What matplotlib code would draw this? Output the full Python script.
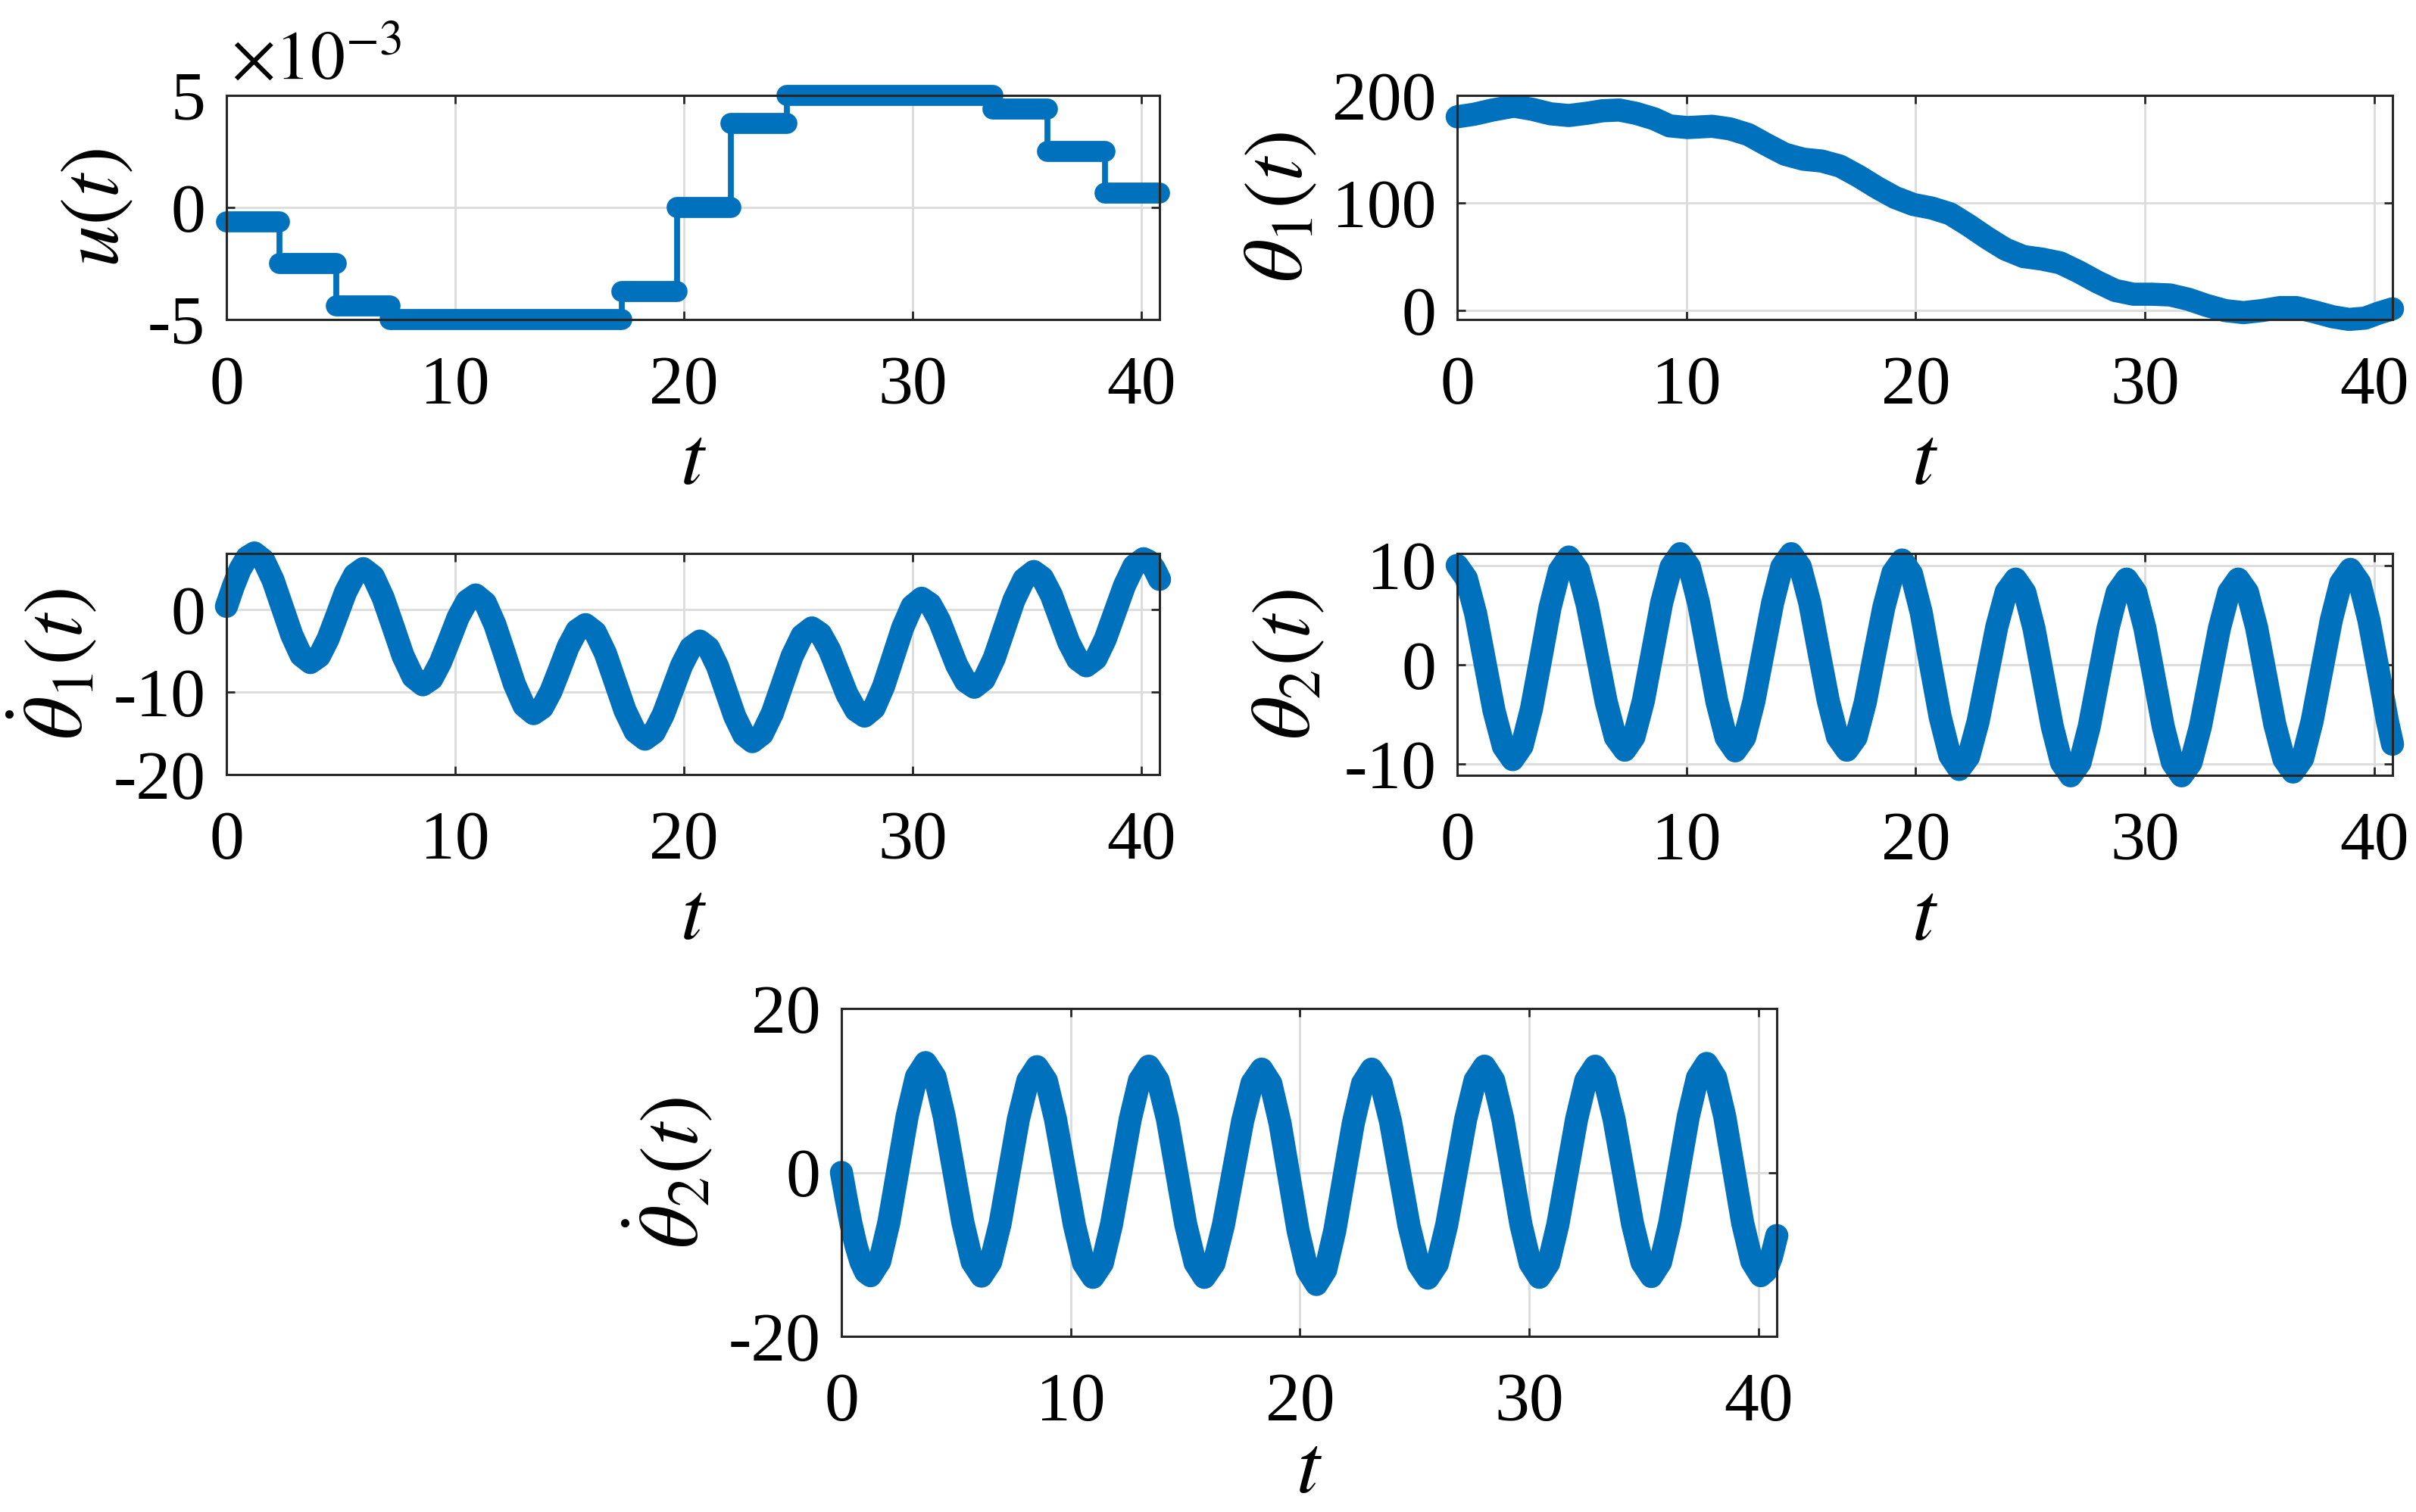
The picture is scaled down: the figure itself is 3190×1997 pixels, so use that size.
import numpy as np
import matplotlib
matplotlib.use("Agg")
import matplotlib.pyplot as plt
from matplotlib.ticker import FuncFormatter

plt.rcParams['font.family'] = ['Liberation Serif', 'DejaVu Serif']
plt.rcParams['mathtext.fontset'] = 'stix'
plt.rcParams['axes.unicode_minus'] = False

# u(t): zero-order-hold control
u_edges = [0, 2.33, 4.79, 7.16, 17.28, 19.7, 22.07, 24.5, 33.5, 35.9, 38.4, 40.8]
u_vals = [-0.63e-3, -2.5e-3, -4.4e-3, -5.0e-3, -3.76e-3, 0.0, 3.75e-3, 5.0e-3,
          4.38e-3, 2.51e-3, 0.63e-3]

# theta_1(t)
th1_t = [0, 0.74, 1.54, 2.47, 3.27, 4.07, 4.87, 5.66, 6.33, 7.07, 7.79, 8.59,
         9.26, 10.05, 11.12, 11.9, 12.7, 13.5, 14.3, 15.1, 15.9, 16.7, 17.5,
         18.3, 19.1, 19.9, 20.7, 21.5, 22.3, 23.1, 23.9, 24.7, 25.5, 26.3, 27.1,
         27.9, 28.7, 29.5, 30.3, 31.1, 31.9, 32.7, 33.5, 34.3, 35.1, 35.9, 36.6,
         37.4, 38.2, 38.9, 39.6, 40.2, 40.8]
th1_v = [180.1, 182.5, 186.4, 190.0, 187.1, 182.9, 181.3, 183.4, 185.7, 186.4,
         183.4, 178.3, 171.7, 170.1, 171.3, 168.9, 163.6, 154.2, 145.3, 140.7,
         139.0, 134.3, 125.0, 114.5, 105.1, 98.6, 95.3, 90.0, 79.4, 67.8, 57.2,
         50.2, 47.9, 44.4, 36.2, 26.9, 18.7, 15.2, 15.2, 14.5, 10.5, 4.7, 0.0,
         -1.9, 0.0, 2.8, 2.8, -1.2, -5.8, -8.2, -7.0, -2.3, 1.6]

# theta_1 dot(t)
dth1_t = [0, 0.3, 0.6, 0.9, 1.22, 1.63, 2.04, 2.45, 2.86, 3.26, 3.67, 4.06, 4.44,
          4.83, 5.21, 5.60, 5.98, 6.42, 6.85, 7.29, 7.72, 8.16, 8.59, 8.98, 9.36,
          9.75, 10.13, 10.52, 10.9, 11.32, 11.74, 12.17, 12.59, 13.01, 13.43,
          13.81, 14.19, 14.57, 14.94, 15.32, 15.7, 16.13, 16.57, 17.0, 17.43,
          17.87, 18.3, 18.7, 19.1, 19.5, 19.9, 20.3, 20.7, 21.08, 21.47, 21.85,
          22.23, 22.62, 23.0, 23.43, 23.87, 24.3, 24.73, 25.17, 25.6, 25.98,
          26.37, 26.75, 27.13, 27.52, 27.9, 28.32, 28.73, 29.15, 29.57, 29.98,
          30.4, 30.78, 31.17, 31.55, 31.93, 32.32, 32.7, 33.13, 33.57, 34.0,
          34.43, 34.87, 35.3, 35.68, 36.07, 36.45, 36.83, 37.22, 37.6, 38.02,
          38.43, 38.85, 39.27, 39.68, 40.1, 40.33, 40.57, 40.8]
dth1_v = [0.42, 2.86, 4.94, 6.36, 6.9, 6.01, 3.58, 0.25, -3.08, -5.51, -6.4,
          -5.64, -3.55, -0.7, 2.15, 4.24, 5.0, 4.06, 1.47, -2.05, -5.58, -8.16,
          -9.1, -8.37, -6.37, -3.65, -0.92, 1.07, 1.8, 0.84, -1.8, -5.4, -9.0,
          -11.64, -12.6, -11.88, -9.9, -7.2, -4.5, -2.52, -1.8, -2.73, -5.28,
          -8.75, -12.23, -14.77, -15.7, -14.9, -12.72, -9.75, -6.77, -4.6, -3.8,
          -4.62, -6.85, -9.9, -12.95, -15.18, -16.0, -15.08, -12.55, -9.1, -5.65,
          -3.12, -2.2, -2.92, -4.88, -7.55, -10.23, -12.18, -12.9, -11.94, -9.32,
          -5.75, -2.17, 0.44, 1.4, 0.68, -1.3, -4.0, -6.7, -8.68, -9.4, -8.46,
          -5.89, -2.38, 1.14, 3.71, 4.65, 3.88, 1.79, -1.08, -3.94, -6.03, -6.8,
          -5.93, -3.55, -0.3, 2.95, 5.33, 6.2, 5.9, 5.0, 3.7]

# theta_2(t)
th2_t = [0, 0.40, 0.81, 1.21, 1.61, 2.02, 2.42, 2.83, 3.24, 3.65, 4.05, 4.46,
         4.87, 5.28, 5.68, 6.09, 6.50, 6.90, 7.31, 7.71, 8.12, 8.52, 8.92, 9.33,
         9.73, 10.13, 10.53, 10.93, 11.33, 11.73, 12.13, 12.54, 12.94, 13.35,
         13.76, 14.16, 14.57, 14.97, 15.38, 15.78, 16.19, 16.59, 17.0, 17.40,
         17.80, 18.2, 18.61, 19.01, 19.41, 19.82, 20.24, 20.65, 21.07, 21.49,
         21.9, 22.31, 22.72, 23.13, 23.54, 23.95, 24.36, 24.76, 25.16, 25.56,
         25.96, 26.36, 26.76, 27.17, 27.57, 27.98, 28.39, 28.79, 29.2, 29.6,
         30.0, 30.4, 30.8, 31.2, 31.6, 32.01, 32.42, 32.835, 33.25, 33.66, 34.07,
         34.47, 34.87, 35.265, 35.66, 36.06, 36.46, 36.88, 37.29, 37.71, 38.13,
         38.54, 38.96, 39.37, 39.77, 40.18, 40.58, 40.8]
th2_v = [10.0, 8.69, 5.11, 0.23, -4.66, -8.24, -9.55, -8.18, -4.45, 0.65, 5.74,
         9.47, 10.84, 9.54, 5.98, 1.12, -3.74, -7.3, -8.6, -7.27, -3.65, 1.29,
         6.24, 9.85, 11.18, 9.85, 6.22, 1.26, -3.71, -7.34, -8.67, -7.34, -3.71,
         1.26, 6.22, 9.85, 11.18, 9.85, 6.23, 1.29, -3.66, -7.27, -8.6, -7.32,
         -3.81, 0.97, 5.76, 9.26, 10.54, 9.13, 5.27, 0.0, -5.27, -9.13, -10.54,
         -9.26, -5.75, -0.96, 3.83, 7.34, 8.62, 7.29, 3.67, -1.28, -6.23, -9.85,
         -11.18, -9.85, -6.23, -1.28, 3.67, 7.29, 8.62, 7.29, 3.67, -1.28, -6.23,
         -9.85, -11.18, -9.85, -6.23, -1.28, 3.67, 7.29, 8.62, 7.32, 3.76, -1.09,
         -5.95, -9.5, -10.8, -9.43, -5.7, -0.6, 4.5, 8.23, 9.6, 8.23, 4.5, -0.6,
         -5.7, -8.0]

# theta_2 dot(t)
dth2_t = [0, 0.21, 0.42, 0.635, 0.85, 1.06, 1.27, 1.67, 2.07, 2.47, 2.87, 3.27,
          3.67, 4.08, 4.48, 4.89, 5.30, 5.70, 6.11, 6.51, 6.92, 7.32, 7.72, 8.13,
          8.53, 8.94, 9.34, 9.75, 10.16, 10.56, 10.97, 11.38, 11.78, 12.19, 12.60,
          13.0, 13.41, 13.81, 14.22, 14.62, 15.02, 15.43, 15.83, 16.25, 16.66,
          17.08, 17.50, 17.91, 18.33, 18.73, 19.13, 19.525, 19.92, 20.32, 20.72,
          21.12, 21.52, 21.925, 22.33, 22.73, 23.13, 23.54, 23.95, 24.355, 24.76,
          25.17, 25.58, 25.99, 26.40, 26.815, 27.23, 27.64, 28.05, 28.45, 28.85,
          29.245, 29.64, 30.04, 30.44, 30.85, 31.25, 31.66, 32.07, 32.47, 32.88,
          33.29, 33.70, 34.105, 34.51, 34.92, 35.33, 35.73, 36.13, 36.535, 36.94,
          37.34, 37.74, 38.13, 38.53, 38.92, 39.31, 39.71, 40.1, 40.33, 40.57, 40.8]
dth2_v = [0.0, -3.26, -6.3, -8.91, -10.91, -12.17, -12.6, -10.86, -6.1, 0.4, 6.9,
          11.66, 13.4, 11.65, 6.89, 0.38, -6.14, -10.9, -12.65, -10.94, -6.26,
          0.13, 6.51, 11.19, 12.9, 11.18, 6.47, 0.05, -6.38, -11.08, -12.8, -11.07,
          -6.36, 0.08, 6.52, 11.23, 12.96, 11.23, 6.52, 0.08, -6.36, -11.07, -12.8,
          -11.1, -6.45, -0.1, 6.25, 10.9, 12.6, 10.84, 6.03, -0.53, -7.1, -11.91,
          -13.67, -11.91, -7.1, -0.53, 6.03, 10.84, 12.6, 10.89, 6.22, -0.15,
          -6.53, -11.19, -12.9, -11.17, -6.43, 0.03, 6.5, 11.23, 12.96, 11.23,
          6.52, 0.08, -6.36, -11.07, -12.8, -11.07, -6.36, 0.08, 6.52, 11.23,
          12.96, 11.24, 6.54, 0.13, -6.29, -10.98, -12.7, -10.96, -6.2, 0.3, 6.8,
          11.56, 13.3, 11.56, 6.82, 0.35, -6.13, -10.86, -12.6, -12.04, -10.27, -7.7]

xticks = [0, 10, 20, 30, 40]
blue = '#0072BD'
LW = 11
W, H = 3190, 1997


def px_axes(fig, left, top, right, bottom):
    return fig.add_axes([left / W, 1 - bottom / H, (right - left) / W, (bottom - top) / H])


def style(ax, ylim, yticks, ylabel, ylab_x, xpad=4):
    ax.set_xlim(0, 40.8)
    ax.set_ylim(*ylim)
    ax.set_xticks(xticks)
    ax.set_yticks(yticks)
    ax.grid(True, color='#dcdcdc', lw=1.0)
    ax.set_axisbelow(True)
    ax.tick_params(direction='in', top=True, right=True, length=4, width=1,
                   labelsize=33, color='#262626')
    ax.tick_params(axis='x', pad=17)
    ax.tick_params(axis='y', pad=10)
    for s in ax.spines.values():
        s.set_linewidth(1.1)
        s.set_color('#262626')
    ax.set_xlabel(r'$t$', fontsize=40, labelpad=xpad)
    ax.set_ylabel(ylabel, fontsize=40)
    ax.yaxis.set_label_coords(ylab_x, 0.5)


def curve(ax, t, v):
    ax.plot(t, v, color=blue, lw=LW, solid_capstyle='round',
            solid_joinstyle='round', clip_on=False)


fig = plt.figure(figsize=(W / 200, H / 200), dpi=200)

# u(t)
ax1 = px_axes(fig, 299, 126, 1531, 422)
ax1.stairs(u_vals, u_edges, baseline=None, color=blue, lw=2.8)
for i in range(len(u_vals)):
    ax1.plot([u_edges[i], u_edges[i + 1]], [u_vals[i], u_vals[i]], color=blue,
             lw=LW - 1, solid_capstyle='round', clip_on=False)
style(ax1, (-5e-3, 5e-3), [-5e-3, 0, 5e-3], r'$u(t)$', -0.097)
ax1.yaxis.set_major_formatter(FuncFormatter(lambda v, p: '%g' % round(v * 1e3)))
ax1.text(0.005, 1.075, r'$\times10^{-3}$', transform=ax1.transAxes,
         fontsize=33, va='baseline', ha='left')

# theta_1
ax2 = px_axes(fig, 1924, 126, 3159, 422)
curve(ax2, th1_t, th1_v)
style(ax2, (-8.3, 200), [0, 100, 200], r'$\theta_1(t)$', -0.147)

# theta_1 dot
ax3 = px_axes(fig, 299, 731, 1531, 1023)
curve(ax3, dth1_t, dth1_v)
style(ax3, (-20, 6.84), [-20, -10, 0], r'$\dot{\theta}_1(t)$', -0.135)

# theta_2
ax4 = px_axes(fig, 1924, 731, 3159, 1024)
curve(ax4, th2_t, th2_v)
style(ax4, (-11.13, 11.2), [-10, 0, 10], r'$\theta_2(t)$', -0.139)

# theta_2 dot
ax5 = px_axes(fig, 1111, 1332, 2346, 1765)
curve(ax5, dth2_t, dth2_v)
style(ax5, (-20, 20), [-20, 0, 20], r'$\dot{\theta}_2(t)$', -0.134, xpad=0)

fig.savefig('out.png', dpi=200)
